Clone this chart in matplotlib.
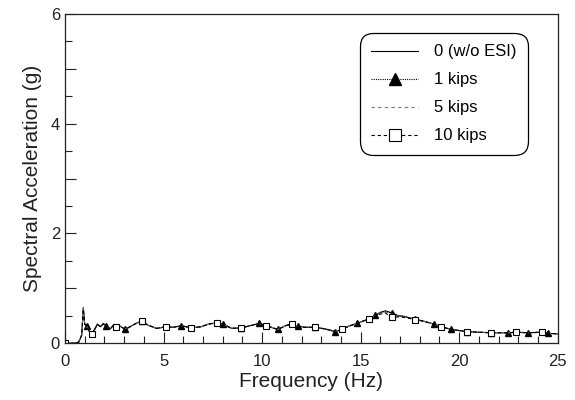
import numpy as np
import matplotlib
matplotlib.use("Agg")
import matplotlib.pyplot as plt
from matplotlib.ticker import MultipleLocator, FuncFormatter

plt.rcParams['font.family'] = ['Liberation Sans', 'DejaVu Sans']

freq = [0.0, 0.5, 0.7, 0.85, 0.93, 1.0, 1.1, 1.25, 1.35, 1.5, 1.65, 1.8, 1.95, 2.1,
        2.3, 2.45, 2.6, 2.8, 3.05, 3.3, 3.6, 3.9, 4.2, 4.65, 5.15, 5.5, 5.9, 6.4,
        6.9, 7.3, 7.7, 8.0, 8.45, 8.95, 9.4, 9.85, 10.2, 10.8, 11.2, 11.5, 11.8,
        12.2, 12.7, 13.2, 13.7, 14.05, 14.4, 14.8, 15.1, 15.4, 15.75, 16.0, 16.25,
        16.6, 16.9, 17.2, 17.5, 17.75, 18.2, 18.7, 19.1, 19.6, 20.0, 20.4, 21.0,
        21.6, 22.5, 22.9, 23.5, 24.2, 24.5, 25.0]

s0 = [0.0, 0.0, 0.02, 0.15, 0.65, 0.35, 0.31, 0.20, 0.17, 0.25, 0.35, 0.30, 0.36, 0.31,
      0.26, 0.33, 0.30, 0.31, 0.25, 0.30, 0.36, 0.41, 0.33, 0.27, 0.30, 0.29, 0.32, 0.28,
      0.30, 0.35, 0.37, 0.35, 0.27, 0.28, 0.32, 0.36, 0.32, 0.25, 0.32, 0.35, 0.31,
      0.29, 0.29, 0.26, 0.21, 0.25, 0.31, 0.36, 0.40, 0.44, 0.51, 0.56, 0.59,
      0.55, 0.50, 0.49, 0.46, 0.44, 0.40, 0.35, 0.30, 0.25, 0.23, 0.21, 0.20,
      0.19, 0.19, 0.20, 0.19, 0.20, 0.18, 0.17]

s1 = [0.0, 0.0, 0.02, 0.15, 0.64, 0.35, 0.31, 0.20, 0.17, 0.25, 0.35, 0.30, 0.36, 0.31,
      0.26, 0.33, 0.30, 0.31, 0.25, 0.30, 0.36, 0.41, 0.33, 0.27, 0.30, 0.29, 0.32, 0.28,
      0.30, 0.35, 0.37, 0.35, 0.27, 0.28, 0.32, 0.36, 0.32, 0.25, 0.32, 0.35, 0.31,
      0.29, 0.29, 0.26, 0.21, 0.25, 0.31, 0.36, 0.40, 0.44, 0.51, 0.56, 0.58,
      0.55, 0.50, 0.49, 0.46, 0.44, 0.40, 0.35, 0.30, 0.25, 0.23, 0.21, 0.20,
      0.19, 0.19, 0.20, 0.19, 0.20, 0.18, 0.17]

s5 = [0.0, 0.0, 0.02, 0.15, 0.63, 0.35, 0.31, 0.20, 0.17, 0.25, 0.35, 0.30, 0.35, 0.31,
      0.26, 0.33, 0.30, 0.31, 0.26, 0.30, 0.36, 0.40, 0.33, 0.27, 0.30, 0.29, 0.32, 0.28,
      0.30, 0.35, 0.37, 0.35, 0.27, 0.28, 0.32, 0.35, 0.32, 0.25, 0.32, 0.35, 0.31,
      0.29, 0.29, 0.26, 0.22, 0.25, 0.31, 0.36, 0.40, 0.44, 0.50, 0.55, 0.57,
      0.53, 0.49, 0.48, 0.46, 0.43, 0.40, 0.35, 0.30, 0.25, 0.23, 0.21, 0.20,
      0.19, 0.19, 0.20, 0.19, 0.20, 0.18, 0.17]

s10 = [0.0, 0.0, 0.02, 0.15, 0.62, 0.35, 0.31, 0.20, 0.17, 0.25, 0.34, 0.30, 0.35, 0.31,
       0.26, 0.32, 0.30, 0.31, 0.26, 0.30, 0.36, 0.40, 0.33, 0.27, 0.30, 0.29, 0.32, 0.28,
       0.30, 0.35, 0.37, 0.35, 0.27, 0.28, 0.32, 0.35, 0.32, 0.25, 0.32, 0.35, 0.31,
       0.29, 0.29, 0.26, 0.22, 0.25, 0.31, 0.36, 0.40, 0.44, 0.49, 0.53, 0.55,
       0.47, 0.48, 0.47, 0.45, 0.43, 0.40, 0.35, 0.30, 0.25, 0.23, 0.21, 0.20,
       0.19, 0.19, 0.20, 0.19, 0.20, 0.18, 0.17]

tri_at = [0.0, 1.1, 2.1, 3.05, 3.9, 5.9, 8.0, 8.95, 9.85, 10.8, 11.8, 12.7, 13.7,
          14.8, 15.75, 16.6, 17.75, 18.7, 19.6, 20.4, 21.6, 22.5, 23.5, 24.5]
sq_at = [0.0, 1.35, 2.6, 3.9, 5.15, 6.4, 7.7, 8.95, 10.2, 11.5, 12.7, 14.05, 15.4,
         16.6, 17.75, 19.1, 20.4, 21.6, 22.9, 24.2]

labels = ['0 (w/o ESI)', '1 kips', '5 kips', '10 kips']

f = np.array(freq)
tri_idx = [int(np.argmin(np.abs(f - v))) for v in tri_at]
sq_idx = [int(np.argmin(np.abs(f - v))) for v in sq_at]

fig = plt.figure(figsize=(5.75, 4.0), dpi=100)
ax = fig.add_axes([0.113, 0.142, 0.857, 0.823])

ax.plot(freq, s0, color='black', lw=0.8, ls='-', label=labels[0])
ax.plot(freq, s1, color='black', lw=0.8, ls=(0, (1, 1)), marker='^', ms=5,
        markevery=tri_idx, mfc='black', mec='black', label=labels[1])
ax.plot(freq, s5, color='#777777', lw=0.8, ls=(0, (3, 3)), label=labels[2])
ax.plot(freq, s10, color='black', lw=0.8, ls=(0, (3, 2.5)), marker='s', ms=5,
        markevery=sq_idx, mfc='white', mec='black', mew=0.8, label=labels[3])

ax.set_xlim(0, 25)
ax.set_ylim(0, 6)
ax.xaxis.set_major_locator(MultipleLocator(5))
ax.xaxis.set_minor_locator(MultipleLocator(1))
ax.yaxis.set_major_locator(MultipleLocator(1))
ax.yaxis.set_minor_locator(MultipleLocator(0.5))
ax.yaxis.set_major_formatter(FuncFormatter(lambda v, p: f"{int(round(v))}" if int(round(v)) % 2 == 0 else ""))
ax.tick_params(which='both', direction='in', top=False, right=False, colors='#222222', labelsize=12)
ax.tick_params(which='major', length=8, width=0.8)
ax.tick_params(which='minor', length=5, width=0.8)
ax.tick_params(axis='x', pad=8)
for sp in ax.spines.values():
    sp.set_linewidth(0.9)
    sp.set_color('#222222')

ax.set_xlabel('Frequency (Hz)', fontsize=15, color='#222222', labelpad=2)
ax.set_ylabel('Spectral Acceleration (g)', fontsize=15, color='#222222', labelpad=6)

leg = ax.legend(loc='upper right', bbox_to_anchor=(0.939, 0.942), fontsize=12,
                handlelength=2.8, handletextpad=0.95, labelspacing=0.78,
                borderpad=0.68, borderaxespad=0, markerscale=1.7,
                fancybox=True, framealpha=1, edgecolor='black')
leg.get_frame().set_linewidth(0.9)
leg.get_frame().set_boxstyle('round', pad=0, rounding_size=0.8)

fig.savefig('out.png', dpi=100)
